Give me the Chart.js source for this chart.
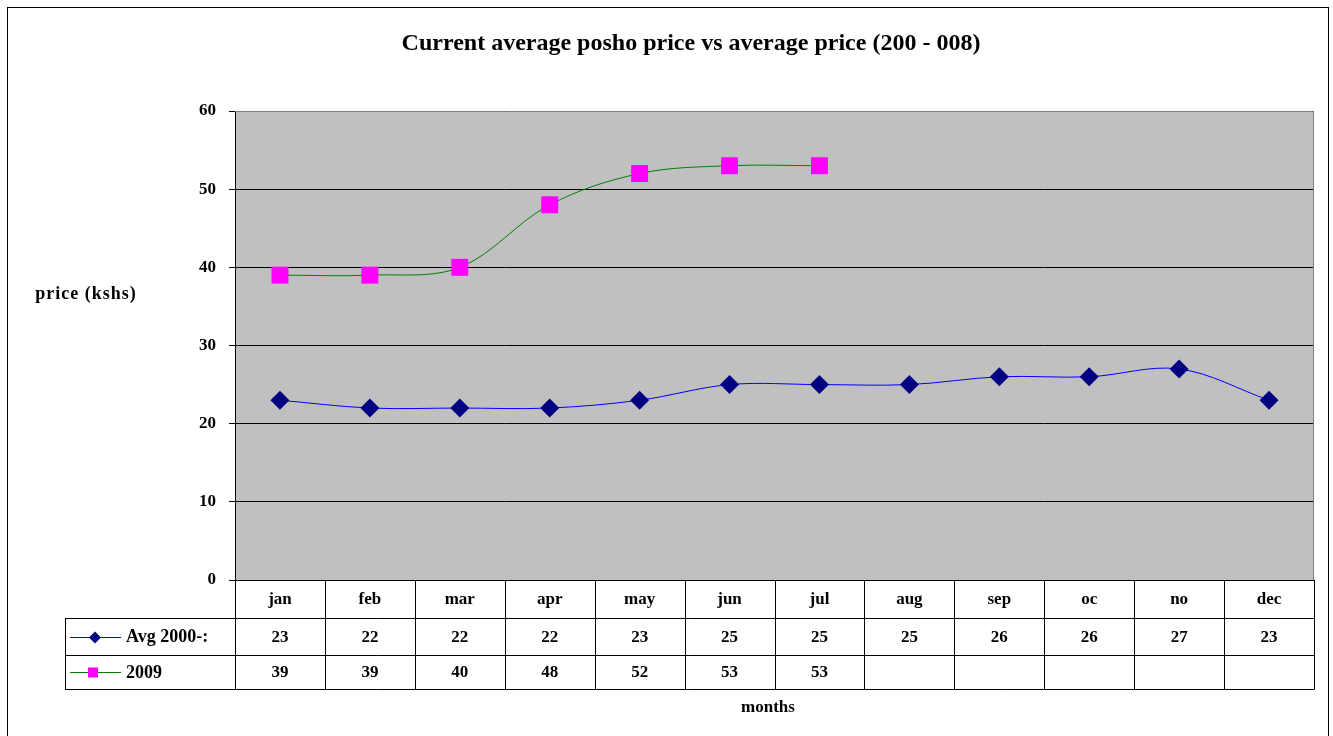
<!DOCTYPE html>
<html><head><meta charset="utf-8">
<script src="https://cdn.jsdelivr.net/npm/chart.js@4"></script>
<style>html,body{margin:0;padding:0;background:#fff}#wrap{width:1333px;height:736px;position:relative}</style>
</head><body><div id="wrap"><canvas id="c" width="1333" height="736"></canvas></div>
<script>
const chartTitle = 'Current average posho price vs average price (200 - 008)';
const yTitle = 'price (kshs)';
const xTitle = 'months';
const months = ['jan','feb','mar','apr','may','jun','jul','aug','sep','oc','no','dec'];
const avgLabel = 'Avg 2000-:';
const avgValues = [23,22,22,22,23,25,25,25,26,26,27,23];
const label2009 = '2009';
const values2009 = [39,39,40,48,52,53,53,null,null,null,null,null];
const yMin = 0, yMax = 60, yStep = 10;

const FONT = '"Liberation Serif", "Times New Roman", serif';

const framePlugin = {
  id: 'frame',
  beforeDraw(chart) {
    const {ctx, chartArea: a} = chart;
    ctx.save();
    ctx.fillStyle = '#fff';
    ctx.fillRect(0, 0, chart.width, chart.height);
    ctx.strokeStyle = '#000';
    ctx.lineWidth = 1;
    ctx.strokeRect(7.5, 7.5, 1321, 760);
    ctx.fillStyle = '#C0C0C0';
    ctx.fillRect(a.left, a.top, a.right - a.left, a.bottom - a.top);
    ctx.restore();
  },
  afterDraw(chart) {
    const {ctx, chartArea: a} = chart;
    const xs = chart.scales.x;
    ctx.save();
    ctx.strokeStyle = '#808080';
    ctx.lineWidth = 1;
    ctx.beginPath();
    ctx.moveTo(a.left, a.top + 0.5); ctx.lineTo(a.right - 0.5, a.top + 0.5); ctx.lineTo(a.right - 0.5, a.bottom);
    ctx.stroke();
    ctx.fillStyle = '#000';
    ctx.textAlign = 'center';
    ctx.textBaseline = 'middle';
    ctx.font = 'bold 24px ' + FONT;
    ctx.fillText(chartTitle, 691, 44);
    ctx.font = 'bold 18px ' + FONT;
    ctx.letterSpacing = '1px';
    ctx.fillText(yTitle, 86, 294);
    ctx.letterSpacing = '0px';
    ctx.font = 'bold 17px ' + FONT;
    ctx.fillText(xTitle, 768, 708);
    const colW = (a.right - a.left) / months.length;
    const r0 = a.bottom, r1 = a.bottom + 38, r2 = a.bottom + 75, r3 = a.bottom + 109;
    const tLeft = 65;
    ctx.strokeStyle = '#000';
    ctx.lineWidth = 1;
    ctx.beginPath();
    for (let i = 0; i <= months.length; i++) {
      const x = Math.round(a.left + i * colW) + 0.5;
      ctx.moveTo(x, r0); ctx.lineTo(x, r3);
    }
    ctx.moveTo(tLeft + 0.5, r1); ctx.lineTo(tLeft + 0.5, r3);
    [r1, r2, r3].forEach(y => { ctx.moveTo(tLeft, Math.round(y) + 0.5); ctx.lineTo(a.right + 0.5, Math.round(y) + 0.5); });
    ctx.stroke();
    ctx.font = 'bold 17px ' + FONT;
    ctx.textAlign = 'center';
    months.forEach((m, i) => {
      const cx = xs.getPixelForValue(i);
      ctx.fillText(m, cx, (r0 + r1) / 2 + 1);
      if (avgValues[i] != null) ctx.fillText(String(avgValues[i]), cx, (r1 + r2) / 2 + 1);
      if (values2009[i] != null) ctx.fillText(String(values2009[i]), cx, (r2 + r3) / 2 + 1);
    });
    const keys = [
      {label: avgLabel, y: (r1 + r2) / 2, ds: chart.data.datasets[0]},
      {label: label2009, y: (r2 + r3) / 2, ds: chart.data.datasets[1]}
    ];
    keys.forEach(k => {
      const yy = Math.round(k.y) + 0.5;
      ctx.strokeStyle = k.ds.borderColor;
      ctx.lineWidth = 1;
      ctx.beginPath(); ctx.moveTo(70, yy); ctx.lineTo(121, yy); ctx.stroke();
      ctx.fillStyle = k.ds.pointBackgroundColor;
      if (k.ds.pointStyle === 'rectRot') {
        ctx.beginPath();
        ctx.moveTo(95, yy - 6); ctx.lineTo(101, yy); ctx.lineTo(95, yy + 6); ctx.lineTo(89, yy); ctx.closePath(); ctx.fill();
      } else {
        ctx.fillRect(88, yy - 5, 10, 10);
      }
      ctx.fillStyle = '#000';
      ctx.textAlign = 'left';
      ctx.font = 'bold 18px ' + FONT;
      ctx.fillText(k.label, 126, k.y + 1);
    });
    ctx.restore();
  }
};

new Chart(document.getElementById('c'), {
  type: 'line',
  data: {
    labels: months,
    datasets: [
      {
        label: avgLabel, data: avgValues,
        borderColor: '#0000FF', borderWidth: 1,
        pointStyle: 'rectRot', pointRadius: 9.5, pointHoverRadius: 9.5,
        pointBackgroundColor: '#000080', pointBorderColor: '#000080', pointBorderWidth: 0,
        tension: 0.35
      },
      {
        label: label2009, data: values2009,
        borderColor: '#008000', borderWidth: 1,
        pointStyle: 'rect', pointRadius: 12, pointHoverRadius: 12,
        pointBackgroundColor: '#FF00FF', pointBorderColor: '#FF00FF', pointBorderWidth: 0,
        tension: 0.35, spanGaps: false
      }
    ]
  },
  options: {
    responsive: false,
    animation: false,
    devicePixelRatio: 1,
    layout: {padding: {left: 0, right: 19, top: 111, bottom: 156}},
    plugins: {legend: {display: false}, title: {display: false}, tooltip: {enabled: false}},
    scales: {
      x: {
        type: 'category', offset: true, display: false,
        grid: {display: false}
      },
      y: {
        min: yMin, max: yMax,
        afterFit(s) { s.width = 235; },
        ticks: {stepSize: yStep, color: '#000', padding: 13, font: {family: FONT, size: 17, weight: 'bold'}},
        grid: {color: '#000', lineWidth: 1, tickLength: 6, drawTicks: true},
        border: {color: '#000', width: 1}
      }
    }
  },
  plugins: [framePlugin]
});
</script>
</body></html>
